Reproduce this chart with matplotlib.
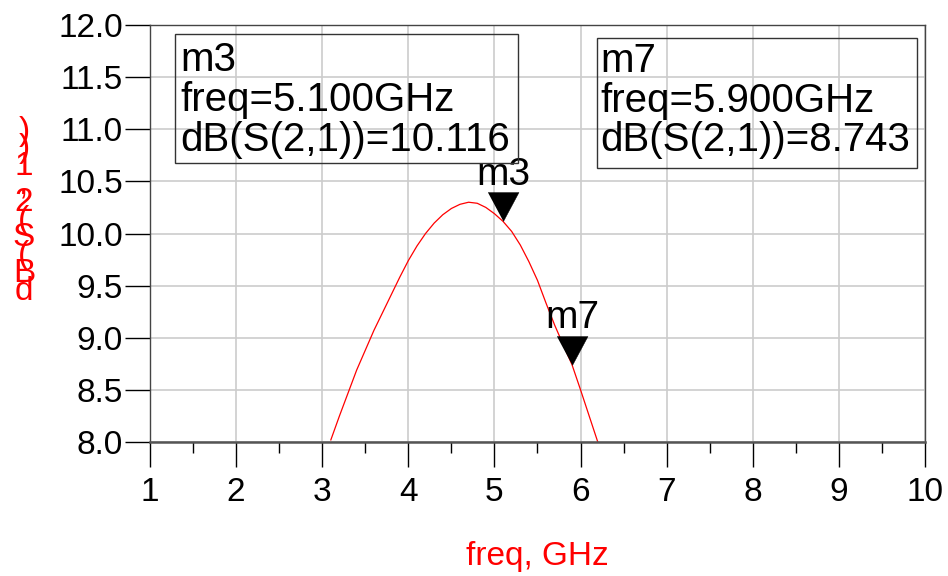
import matplotlib
matplotlib.use("Agg")
import matplotlib.pyplot as plt
import numpy as np
from matplotlib.patches import Rectangle

# S21 trace
freq_ghz = [3.1, 3.2, 3.3, 3.4, 3.5, 3.6, 3.7, 3.8, 3.9, 4.0, 4.1,
            4.2, 4.3, 4.4, 4.5, 4.6, 4.7, 4.8, 4.9, 5.0, 5.1, 5.2,
            5.3, 5.4, 5.5, 5.6, 5.7, 5.8, 5.9, 6.0, 6.1, 6.2]
s21_db = [8.02, 8.25, 8.47, 8.69, 8.88, 9.07, 9.24, 9.41, 9.58, 9.74, 9.88,
          10.00, 10.10, 10.18, 10.24, 10.28, 10.30, 10.29, 10.25, 10.19, 10.116, 10.02,
          9.89, 9.73, 9.55, 9.33, 9.12, 8.93, 8.743, 8.50, 8.25, 8.00]

# markers
marker_names = ["m3", "m7"]
marker_freq = [5.1, 5.9]
marker_db = [10.116, 8.743]

x_ticks = [1, 2, 3, 4, 5, 6, 7, 8, 9, 10]
y_ticks = [8.0, 8.5, 9.0, 9.5, 10.0, 10.5, 11.0, 11.5, 12.0]

plt.rcParams["font.family"] = "Liberation Sans"

W, H = 948, 576
fig = plt.figure(figsize=(W / 100, H / 100), dpi=100)
ax = fig.add_axes([150 / W, (H - 442) / H, 775 / W, 417 / H])

ax.plot(freq_ghz, s21_db, color="red", lw=0.9)

# triangle with its tip on the data point
tri = [(-1, 1.87), (1, 1.87), (0, 0)]
ax.plot(marker_freq, marker_db, ls="none", marker=tri, ms=41.7,
        color="black", mew=0.3, zorder=4)
for name, f, v in zip(marker_names, marker_freq, marker_db):
    ax.annotate(name, (f, v), xytext=(0, 26), textcoords="offset points",
                ha="center", va="baseline", fontsize=28)

ax.set_xlim(1, 10)
ax.set_ylim(8, 12)
ax.set_xticks(x_ticks)
ax.set_xticks(np.arange(1.5, 10, 1.0), minor=True)
ax.set_yticks(y_ticks)
ax.set_yticklabels([f"{v:.1f}" for v in y_ticks])
ax.grid(True, which="major", color="#cccccc", lw=1.2)
ax.set_axisbelow(True)
ax.tick_params(axis="x", which="major", direction="out", length=18, width=1,
               pad=7, labelsize=24)
ax.tick_params(axis="x", which="minor", direction="out", length=8, width=1)
ax.tick_params(axis="y", which="major", direction="out", length=18, width=1,
               pad=1.5, labelsize=24)

for side in ["left", "top", "right"]:
    ax.spines[side].set_color("#444444")
    ax.spines[side].set_linewidth(1)
ax.spines["bottom"].set_color("#555555")
ax.spines["bottom"].set_linewidth(1.8)

# marker readout boxes (axes fraction)
boxes = [(0.0323, 0.669, 0.4425, 0.309, 0.0387, 0.890),
         (0.5768, 0.657, 0.4129, 0.312, 0.5815, 0.888)]
for (bx, by, bw, bh, tx, ty), name, f, v in zip(boxes, marker_names, marker_freq, marker_db):
    ax.add_patch(Rectangle((bx, by), bw, bh, transform=ax.transAxes, fill=False,
                           edgecolor="#333333", lw=1, clip_on=False, zorder=5))
    lines = [name, f"freq={f:.3f}GHz", f"dB(S(2,1))={v:.3f}"]
    for i, line in enumerate(lines):
        ax.text(tx, ty - i * 0.0955, line, transform=ax.transAxes,
                fontsize=29, ha="left", va="baseline", zorder=6)

# y label: ADS stacks the characters upright on top of each other
ylab = "dB(S(2,1))"
ax.text(-0.1626, 0.324, "\n".join(reversed(ylab)), transform=ax.transAxes,
        color="red", fontsize=24, ha="center", va="bottom",
        multialignment="center", linespacing=0.45)

ax.text(0.5, -0.295, "freq, GHz", transform=ax.transAxes, color="red",
        fontsize=24, ha="center", va="baseline")

fig.savefig("out.png", dpi=100)
